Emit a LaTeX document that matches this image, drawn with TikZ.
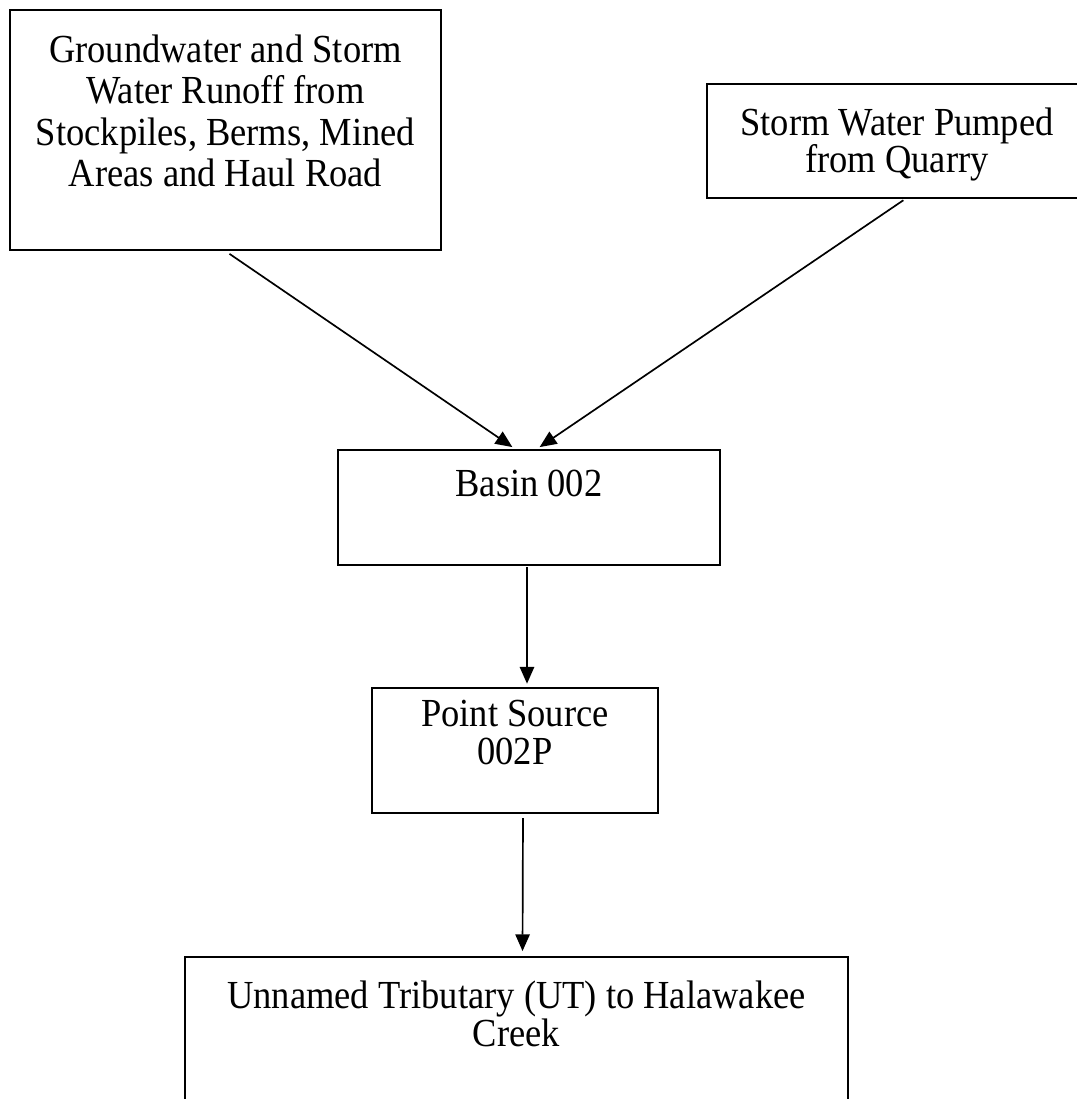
\documentclass[tikz,border=0pt]{standalone}
\usepackage{fontspec}
\setmainfont[FakeStretch=0.917]{Liberation Serif}
\usepackage{tikz}
\usetikzlibrary{arrows.meta,positioning,calc,fit}
\tikzset{
  box/.style={draw, line width=1.6pt, inner sep=0pt},
  txt/.style={align=center, inner sep=0pt, font=\fontsize{28.3}{#1}\selectfont},
  txt/.default=28,
  arr/.style={-{Triangle[length=0.42cm, width=0.36cm]}, line width=1.2pt},
}

\begin{document}
\begin{tikzpicture}[x=0.025cm, y=-0.025cm]
  \clip (0,0) rectangle (1077,1099);
  \useasboundingbox (0,0) rectangle (1077,1099);
  % boxes
  \node[box, fit={(10,10) (441,250)}] (runoff) {};
  \node[box, fit={(707,84) (1087,198)}] (quarry) {};
  \node[box, fit={(338,450) (720,565)}] (basin) {};
  \node[box, fit={(372,688) (658,813)}] (point) {};
  \node[box, fit={(185,957) (848,1120)}] (creek) {};
  % texts
  \node[txt=29.5, below=0.64cm of runoff.north] (runoffT) {Groundwater and Storm\\Water Runoff from\\Stockpiles, Berms, Mined\\Areas and Haul Road};
  \node[txt=26.5, below=0.62cm of quarry.north] (quarryT) {Storm Water Pumped\\from Quarry};
  \node[txt, below=0.52cm of basin.north] (basinT) {Basin 002};
  \node[txt=27, below=0.32cm of point.north] (pointT) {Point Source\\002P};
  \node[txt=25.5, below=0.62cm of creek.north] (creekT) {Unnamed Tributary (UT) to Halawakee\\Creek};
  % flows
  \draw[arr, shorten <=0.12cm, shorten >=0.08cm] (runoff.south) -- ($(basin.north)+(-14,0)$);
  \draw[arr, shorten <=0.05cm, shorten >=0.08cm] ($(quarry.south)+(8,0)$) -- ($(basin.north)+(8,0)$);
  \draw[arr, shorten <=0.03cm, shorten >=0.08cm] ($(basin.south)+(-2,0)$) -- ($(point.north)+(12,0)$);
  \draw[arr, shorten <=0.1cm, shorten >=0.12cm] ($(point.south)+(8,0)$) -- ($(creek.north)+(6,0)$);
\end{tikzpicture}
\end{document}
